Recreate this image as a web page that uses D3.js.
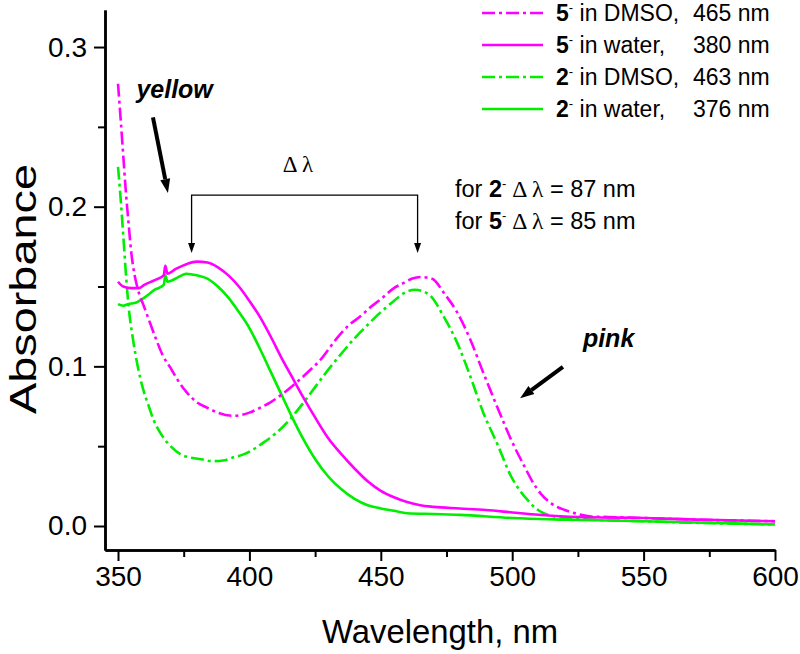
<!DOCTYPE html>
<html>
<head>
<meta charset="utf-8">
<script src="https://cdn.jsdelivr.net/npm/d3@7"></script>
<style>
  html, body { margin: 0; padding: 0; background: #fff; }
  svg { display: block; font-family: "Liberation Sans", Arial, sans-serif; }
</style>
</head>
<body>
<svg id="chart" width="800" height="654"></svg>
<script>
// ---------- data (wavelength nm, absorbance) ----------
const dmso5 = [[350,0.277],[351,0.255],[352,0.232],[353,0.209],[354,0.190],[355,0.172],[356,0.160],[357.6,0.148],[360,0.137],[362,0.128],[364.5,0.117],[367,0.107],[370,0.099],[372.5,0.092],[376,0.084],[380,0.0775],[384,0.074],[388,0.071],[394,0.069],[400,0.071],[404,0.074],[408,0.0775],[412,0.082],[418,0.090],[422,0.096],[427,0.104],[433,0.117],[438,0.126],[442,0.131],[446,0.137],[450,0.142],[455,0.149],[459,0.1525],[462,0.155],[465,0.156],[468,0.1555],[470,0.1545],[474,0.146],[479,0.134],[484,0.117],[489,0.096],[494.7,0.073],[499.6,0.054],[504.6,0.0375],[508,0.027],[511,0.020],[515,0.014],[520,0.010],[525,0.0075],[530,0.006],[540,0.0055],[550,0.005],[570,0.004],[600,0.003]];
const water5 = [[350,0.153],[352,0.150],[355,0.149],[358,0.149],[360,0.151],[364,0.154],[367.4,0.157],[368,0.163],[368.8,0.158],[372,0.161],[376,0.164],[380,0.1656],[384,0.165],[388,0.162],[392,0.157],[396,0.150],[400,0.141],[404,0.131],[408,0.119],[412,0.106],[416,0.094],[420,0.082],[425,0.068],[430,0.055],[435,0.045],[440,0.036],[445,0.028],[450,0.022],[455,0.018],[460,0.015],[465,0.013],[470,0.012],[480,0.011],[490,0.010],[500,0.0085],[510,0.007],[520,0.006],[530,0.0055],[550,0.005],[570,0.004],[600,0.003]];
const dmso2 = [[350,0.225],[351,0.205],[352,0.182],[353,0.158],[354,0.138],[355.7,0.117],[357.5,0.100],[359.5,0.086],[361.5,0.076],[363.4,0.067],[367,0.056],[370,0.050],[373.7,0.045],[377,0.043],[381,0.042],[386,0.0406],[390,0.041],[394,0.043],[398,0.045],[401.5,0.048],[406,0.053],[410,0.058],[415,0.066],[420,0.076],[425,0.087],[431,0.100],[435,0.108],[439.7,0.117],[445,0.126],[450,0.134],[455,0.141],[459,0.146],[463,0.148],[466,0.147],[469,0.144],[474,0.131],[479,0.115],[484,0.094],[489,0.071],[494.7,0.050],[499.6,0.031],[503,0.022],[506,0.016],[509,0.011],[512,0.008],[516,0.006],[520,0.005],[530,0.004],[550,0.003],[570,0.002],[600,0.001]];
const water2 = [[350,0.139],[352,0.138],[354,0.139],[357,0.140],[360,0.143],[364,0.148],[367.4,0.151],[368,0.157],[368.8,0.153],[372,0.155],[376,0.158],[380,0.157],[384,0.155],[388,0.150],[392,0.143],[396,0.134],[400,0.124],[404,0.111],[408,0.097],[412,0.083],[416,0.069],[420,0.056],[425,0.042],[430,0.031],[435,0.023],[440,0.017],[445,0.013],[450,0.011],[455,0.0095],[460,0.008],[470,0.0075],[480,0.007],[500,0.005],[520,0.004],[550,0.003],[600,0.001]];

const xMajorTicks = [350, 400, 450, 500, 550, 600];
const xMinorTicks = [375, 425, 475, 525, 575];
const yMajorTicks = [0.0, 0.1, 0.2, 0.3];
const yMinorTicks = [0.05, 0.15, 0.25];

const legendCompound = ["5", "5", "2", "2"];
const legendSolvent = ["in DMSO,", "in water,", "in DMSO,", "in water,"];
const legendPeak = ["465 nm", "380 nm", "463 nm", "376 nm"];
const legendColor = ["#ff00ff", "#ff00ff", "#00ee00", "#00ee00"];
const legendDashed = [true, false, true, false];

// ---------- layout ----------
const svg = d3.select("#chart");
const pLeft = 105, pRight = 775, pTop = 10, pBottom = 550;
const x = d3.scaleLinear().domain([345.05, 600]).range([pLeft, pRight]);
const y = d3.scaleLinear().domain([-0.01503, 0.3232]).range([pBottom, pTop]);

const magenta = "#ff00ff", green = "#00ee00";
const dashDot = "13,4,3,4";

// ---------- axes ----------
const axisX = d3.axisBottom(x).tickValues(xMajorTicks).tickSize(11).tickSizeOuter(0).tickPadding(5).tickFormat(d3.format("d"));
const axisXMinor = d3.axisBottom(x).tickValues(xMinorTicks).tickSize(7).tickSizeOuter(0).tickFormat("");
const axisY = d3.axisLeft(y).tickValues(yMajorTicks).tickSize(11).tickSizeOuter(0).tickPadding(7).tickFormat(d3.format(".1f"));
const axisYMinor = d3.axisLeft(y).tickValues(yMinorTicks).tickSize(7).tickSizeOuter(0).tickFormat("");

function styleAxis(g) {
  g.select(".domain").attr("stroke", "#000").attr("stroke-width", 2.5);
  g.selectAll(".tick line").attr("stroke", "#000").attr("stroke-width", 2);
  g.selectAll(".tick text").attr("fill", "#000").attr("font-size", 28)
    .attr("font-family", "'Liberation Sans', Arial, sans-serif");
}
svg.append("g").attr("transform", `translate(0,${pBottom})`).call(axisXMinor).call(styleAxis);
svg.append("g").attr("transform", `translate(0,${pBottom})`).call(axisX).call(styleAxis);
svg.append("g").attr("transform", `translate(${pLeft},0)`).call(axisYMinor).call(styleAxis);
svg.append("g").attr("transform", `translate(${pLeft},0)`).call(axisY).call(styleAxis);

// axis titles
svg.append("text").attr("x", 440).attr("y", 643).attr("text-anchor", "middle")
  .attr("font-size", 34).attr("textLength", 236).attr("lengthAdjust", "spacingAndGlyphs")
  .text("Wavelength, nm");
svg.append("text").attr("transform", "translate(36,289) rotate(-90)").attr("text-anchor", "middle")
  .attr("font-size", 37).attr("textLength", 250).attr("lengthAdjust", "spacingAndGlyphs")
  .text("Absorbance");

// ---------- curves ----------
const line = d3.line().x(d => x(d[0])).y(d => y(d[1])).curve(d3.curveMonotoneX);
const series = [
  { data: water2, color: green, dashed: false },
  { data: dmso2, color: green, dashed: true },
  { data: water5, color: magenta, dashed: false },
  { data: dmso5, color: magenta, dashed: true }
];
svg.append("g").selectAll("path").data(series).join("path")
  .attr("d", s => line(s.data))
  .attr("fill", "none")
  .attr("stroke", s => s.color)
  .attr("stroke-width", 2.6)
  .attr("stroke-linejoin", "round")
  .attr("stroke-dasharray", s => s.dashed ? dashDot : null);

// ---------- legend ----------
const legY = [13, 45, 77, 109];
const leg = svg.append("g");
legendCompound.forEach((c, i) => {
  leg.append("line").attr("x1", 482).attr("x2", 543).attr("y1", legY[i]).attr("y2", legY[i])
    .attr("stroke", legendColor[i]).attr("stroke-width", 2.6)
    .attr("stroke-dasharray", legendDashed[i] ? dashDot : null);
  const t = leg.append("text").attr("x", 556).attr("y", legY[i] + 8).attr("font-size", 23);
  t.append("tspan").attr("font-weight", "bold").text(c);
  t.append("tspan").attr("font-size", 13).attr("dy", -9).text("-");
  t.append("tspan").attr("dy", 9).text(" " + legendSolvent[i]);
  leg.append("text").attr("x", 693).attr("y", legY[i] + 8).attr("font-size", 23).text(legendPeak[i]);
});

// ---------- annotations ----------
const ann = svg.append("g");
ann.append("text").attr("x", x(357.0)).attr("y", y(0.2680)).attr("font-size", 25)
  .attr("font-weight", "bold").attr("font-style", "italic").text("yellow");
function thickArrow(x1, y1, x2, y2, w, headLen, headW) {
  const dx = x2 - x1, dy = y2 - y1, L = Math.hypot(dx, dy);
  const ux = dx / L, uy = dy / L, px = -uy, py = ux;
  const bx = x2 - ux * headLen, by = y2 - uy * headLen;
  ann.append("line").attr("x1", x1).attr("y1", y1).attr("x2", bx).attr("y2", by)
    .attr("stroke", "#000").attr("stroke-width", w);
  ann.append("path").attr("d", `M${x2},${y2}L${bx + px * headW},${by + py * headW}L${bx - px * headW},${by - py * headW}Z`)
    .attr("fill", "#000");
}
thickArrow(x(363.3), y(0.256), x(369.0), y(0.2086), 4, 14, 5);
ann.append("text").attr("x", x(526.9)).attr("y", y(0.1121)).attr("font-size", 25)
  .attr("font-weight", "bold").attr("font-style", "italic").text("pink");
thickArrow(x(519.3), y(0.0996), x(503.0), y(0.0800), 4, 14, 5);

// delta-lambda bracket
const bx1 = x(378), bx2 = x(464), byTop = y(0.2073), byTip = y(0.171);
ann.append("path").attr("d", `M${bx1},${byTip - 9}V${byTop}H${bx2}V${byTip - 9}`)
  .attr("fill", "none").attr("stroke", "#000").attr("stroke-width", 1.3);
[bx1, bx2].forEach(bx => {
  ann.append("path").attr("d", `M${bx},${byTip}L${bx - 3.5},${byTip - 10}L${bx + 3.5},${byTip - 10}Z`).attr("fill", "#000");
});
ann.append("text").attr("x", x(418.5)).attr("y", y(0.2215)).attr("text-anchor", "middle")
  .attr("font-family", "'Liberation Serif', 'Times New Roman', serif").attr("font-size", 23).text("Δ λ");

const forCompound = ["2", "5"];
const forValue = ["= 87 nm", "= 85 nm"];
const forY = [y(0.2060), y(0.1860)];
forCompound.forEach((c, i) => {
  const t = ann.append("text").attr("x", 455).attr("y", forY[i]).attr("font-size", 23.5);
  t.append("tspan").text("for ");
  t.append("tspan").attr("font-weight", "bold").text(c);
  t.append("tspan").attr("font-size", 13).attr("dy", -9).text("-");
  t.append("tspan").attr("dy", 9).attr("font-family", "'Liberation Serif', 'Times New Roman', serif").text(" Δ λ");
  t.append("tspan").text(" " + forValue[i]);
});
</script>
</body>
</html>
